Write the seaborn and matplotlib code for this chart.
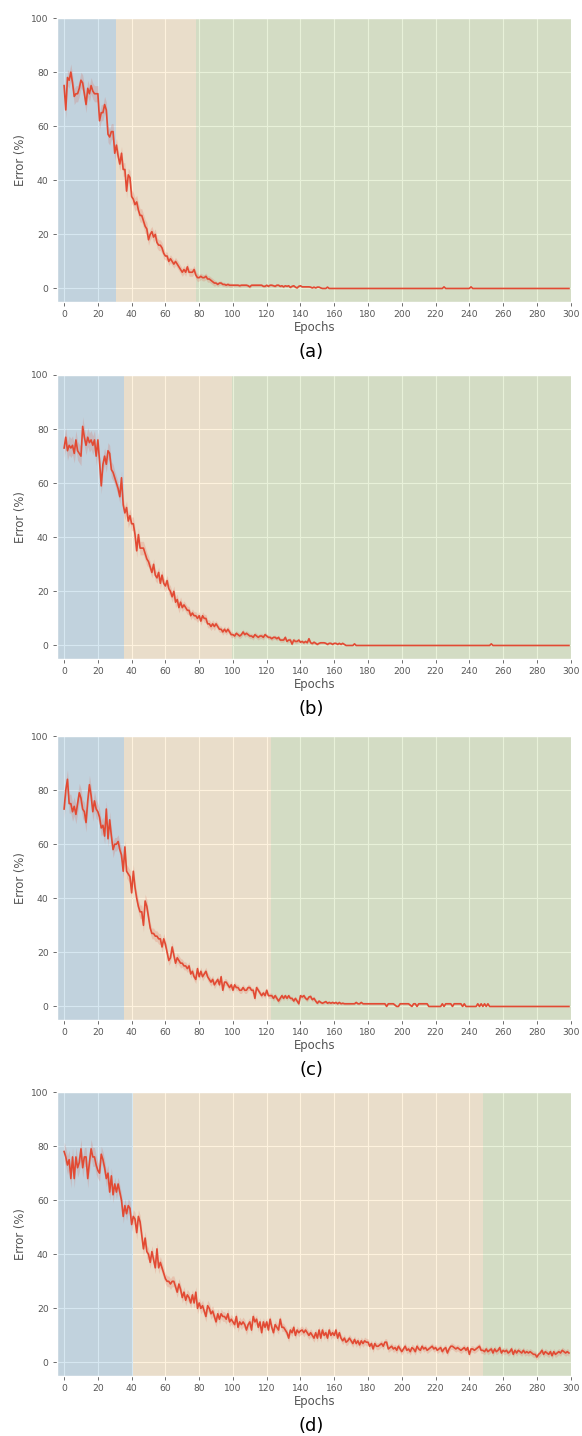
import numpy as np
import matplotlib
matplotlib.use("Agg")
import matplotlib.pyplot as plt
import seaborn as sns

# ---------------- data ----------------
epochs = list(range(300))

err_a = [75, 66, 78, 77, 80, 76, 71, 72, 72, 74,
         77, 76, 72, 68, 74, 72, 75, 73, 72, 72,
         72, 62, 65, 65, 68, 66, 57, 56, 58, 58,
         50, 53, 49, 46, 50, 44, 44, 36, 42, 41,
         34, 33, 31, 32, 29, 27, 27, 25, 23, 22,
         18, 20, 21, 19, 20, 17, 16, 16, 15, 13,
         12, 12, 10, 11, 10, 9, 10, 9, 8, 7,
         6, 7, 6, 8, 6, 6, 6, 7, 5, 4,
         4, 4.5, 4, 4, 4.5, 3.5, 3.5, 3, 2.5, 2,
         2, 1.5, 2, 2, 1.5, 1.5, 1.2, 1.5, 1.2, 1.2,
         1.2, 1.2, 1.2, 1.2, 1.0, 1.2, 1.2, 1.2, 1.2, 1.0,
         0.6, 1.2, 1.2, 1.2, 1.2, 1.2, 1.2, 1.2, 0.8, 0.8,
         1.2, 0.8, 1.2, 1.2, 1.0, 0.8, 1.2, 1.2, 0.8, 1.0,
         0.6, 1.0, 0.8, 1.0, 0.4, 0.8, 1.0, 0.5, 0.2, 0.8,
         1.0, 0.6, 0.6, 0.6, 0.6, 0.6, 0.5, 0.2, 0.5, 0.2,
         0.5, 0.5, 0.2, 0, 0, 0, 0.5, 0, 0, 0] + \
        [0] * 65 + [0.6] + [0] * 15 + [0.6] + [0] * 58

err_b = [73, 77, 72, 74, 73, 74, 71, 76, 72, 71,
         70, 81, 77, 74, 77, 75, 76, 74, 76, 70,
         76, 68, 59, 67, 70, 67, 72, 71, 65, 64,
         62, 60, 58, 55, 62, 52, 49, 51, 46, 48,
         45, 45, 41, 35, 41, 36, 36, 36, 34, 32,
         31, 29, 27, 30, 26, 25, 27, 23, 26, 23,
         22, 24, 21, 20, 18, 20, 16, 17, 14, 16,
         14, 15, 14, 13, 13, 11, 12, 11, 11, 10,
         11, 9, 11, 10, 10, 8, 8, 7, 8, 7,
         8, 7, 6, 6, 5, 6, 5, 6, 5, 4,
         4, 3.5, 4.5, 4, 3.5, 4, 5, 4, 4.5, 4,
         3.5, 3.5, 3, 4, 3.5, 3, 3.5, 3.5, 3, 4,
         3.5, 3, 3, 2.5, 3, 3, 2.5, 3, 2, 2,
         2, 3, 1.5, 2, 2, 0.5, 2, 1.5, 1.5, 2,
         1.2, 1.5, 1.0, 1.5, 1.0, 2.5, 1.0, 0.7, 1.2, 0.8,
         0.4, 0.8, 1.0, 1.0, 1.0, 0.8, 0.4, 0.8, 0.8, 0.4,
         0.8, 0.8, 0.4, 0.8, 0.4, 0.8, 0.4, 0, 0, 0] + \
        [0, 0, 0.6] + [0] * 80 + [0.6] + [0] * 46

err_c = [73, 80, 84, 75, 75, 72, 74, 71, 75, 79,
         77, 73, 72, 68, 76, 82, 78, 72, 76, 73,
         72, 70, 66, 67, 63, 73, 62, 69, 63, 58,
         60, 60, 61, 58, 56, 50, 59, 50, 49, 48,
         42, 50, 44, 40, 37, 35, 35, 30, 39, 37,
         33, 29, 27, 27, 26, 26, 25, 25, 22, 25,
         23, 20, 17, 18, 22, 19, 16, 18, 17, 16,
         16, 15, 15, 14, 15, 12, 13, 11, 10, 14,
         11, 13, 11, 12, 13, 11, 10, 9, 10, 8,
         9, 10, 8, 11, 6, 9, 9, 8, 7, 8,
         6, 8, 7, 7, 6, 6, 7, 6, 6, 7,
         7, 6, 6, 3, 7, 6, 5, 4, 5, 4,
         6, 4, 4, 4, 3, 4, 3, 2, 3, 4,
         3, 4, 3, 4, 3, 3, 2, 3, 2, 1,
         4, 3.5, 4, 3, 2.5, 3.5, 3.7, 2.5, 3, 2,
         1.2, 2, 1.5, 1.2, 1.5, 1.8, 1.2, 1.5, 1.2, 1.5,
         1.2, 1.5, 1.0, 1.5, 1.0, 1.2, 1.0, 1.0, 1.0, 1.0,
         1.0, 1.0, 1.0, 1.5, 1.0, 1.0, 1.5, 1.0, 1.0, 1.0,
         1.0, 1.0, 1.0, 1.0, 1.0, 1.0, 1.0, 1.0, 1.0, 1.0,
         1.0, 0, 1.0, 1.0, 1.0, 1.0, 0.5, 0, 0, 1.0,
         1.0, 1.0, 1.0, 1.0, 1.0, 0.5, 0, 1.0, 1.0, 0,
         1.0, 1.0, 1.0, 1.0, 1.0, 1.0, 0, 0, 0, 0,
         0, 0, 0, 0, 1.0, 0, 1.0, 1.0, 1.0, 1.0,
         0, 1.0, 1.0, 1.0, 1.0, 1.0, 0, 1.0, 0, 0,
         0, 0, 0, 0, 0, 1.0, 0, 1.0, 0, 1.0,
         0, 1.0, 0] + [0] * 47

err_d = [78, 76, 73, 75, 68, 76, 68, 76, 72, 74,
         79, 72, 76, 76, 68, 74, 79, 76, 76, 73,
         71, 70, 77, 75, 72, 68, 70, 63, 69, 62,
         66, 63, 66, 63, 60, 54, 58, 55, 58, 57,
         51, 54, 53, 48, 54, 52, 47, 42, 46, 41,
         40, 37, 41, 38, 35, 42, 35, 37, 35, 33,
         31, 30, 30, 29, 30, 30, 28, 26, 29, 27,
         24, 26, 23, 25, 24, 22, 25, 22, 26, 20,
         22, 20, 21, 19, 17, 21, 20, 18, 19, 17,
         15, 18, 16, 18, 17, 17, 16, 18, 15, 16,
         15, 14, 17, 13, 15, 14, 15, 14, 12, 14,
         15, 12, 17, 15, 16, 13, 15, 11, 15, 13,
         15, 12, 16, 13, 11, 14, 13, 12, 16, 13,
         13, 12, 11, 9, 12, 11, 13, 10, 12, 11,
         11.7, 12, 11, 12, 11, 10, 11, 10, 9, 11,
         9, 12, 9, 12, 10, 11, 9, 12, 10, 11,
         10, 12, 9, 11, 9, 8, 9, 7.5, 8, 9,
         8, 7, 8.5, 7, 8, 6.5, 8, 7, 8, 7.5,
         7.5, 6, 7, 5, 7, 6, 6, 6.5, 7, 6,
         7.5, 7.5, 5, 5.5, 6, 5, 5.5, 4.5, 6, 5,
         4, 5, 6, 4.5, 5, 4, 5.5, 5, 4, 6,
         5, 4.5, 6, 5, 5.5, 4.5, 5, 5.5, 6, 5,
         5.5, 4.5, 5, 5.5, 4, 5, 5.5, 3.5, 5, 6,
         6, 5.5, 5, 5.5, 5, 4.5, 5, 5.5, 4.5, 5.5,
         3, 5, 5, 4.5, 5, 5.5, 6, 4.5, 4.5, 4,
         5, 4, 4.5, 5, 3.5, 5, 4, 4.5, 5.5, 3.5,
         4.5, 4, 4.5, 3.5, 4, 5, 3, 4.5, 3.5, 4.5,
         4, 3.5, 4.5, 3.5, 4, 3.5, 4, 3.5, 3, 3,
         2, 3, 3.5, 4.5, 3, 4, 3.5, 3, 4, 2.5,
         4, 3, 3.5, 4, 3.5, 4.5, 4, 3.5, 4, 3.5]

# half-width of the shaded band, one value per block of 10 epochs
spread_a = [3, 3, 3, 2.5, 2.5, 2, 1.5, 1.5, 1.2, 0.8, 0.6, 0.5, 0.5, 0.4, 0.3, 0.2] + [0.1] * 14
spread_b = [3.5, 3.5, 3, 2.5, 2.5, 2, 2, 1.5, 1.5, 1.2, 1, 1, 0.8, 0.8, 0.6, 0.4, 0.3] + [0.1] * 13
spread_c = [3.5, 3.5, 3, 2.5, 2.5, 2, 1.8, 1.5, 1.5, 1.3, 1.2, 1, 1, 0.8, 0.8, 0.6, 0.5,
            0.4, 0.4, 0.4, 0.4, 0.4, 0.4, 0.4, 0.3] + [0.1] * 5
spread_d = [3.5, 3.5, 3, 2.5, 2.5, 2.2, 2, 2, 2, 1.8, 1.8, 1.6, 1.6, 1.5, 1.5, 1.5, 1.4, 1.4,
            1.3, 1.3, 1.3, 1.2, 1.2, 1.2, 1.2, 1.2, 1.2, 1.2, 1.2, 1.2]

# phase boundaries (epochs): blue -> beige, beige -> green
phase_ends = [(30.5, 78), (35.5, 99.5), (35.5, 122.5), (41, 248)]
panel_labels = ["(a)", "(b)", "(c)", "(d)"]

series = [err_a, err_b, err_c, err_d]
spreads = [spread_a, spread_b, spread_c, spread_d]
for s in series:
    assert len(s) == 300, len(s)

# ---------------- style ----------------
plt.style.use("ggplot")
plt.rcParams["font.family"] = ["DejaVu Sans"]
RED = "#E24A33"
BLUE = "#348ABD"
ORANGE = "#FBC15E"
GREEN = "#8EBA42"

W, H = 582, 1436
fig = plt.figure(figsize=(W / 100, H / 100), dpi=100)

axes_px = [(18, 302), (375, 659), (736, 1020), (1092, 1376)]
left_px, right_px = 57, 572
XMIN, XMAX = -4.2, 300.8

for i, (top, bot) in enumerate(axes_px):
    ax = fig.add_axes([left_px / W, 1 - bot / H, (right_px - left_px) / W, (bot - top) / H])
    y = np.array(series[i], dtype=float)
    sp = np.repeat(spreads[i], 10)
    b1, b2 = phase_ends[i]
    ax.axvspan(XMIN, b1, color=BLUE, alpha=0.2, lw=0, zorder=1)
    ax.axvspan(b1, b2, color=ORANGE, alpha=0.2, lw=0, zorder=1)
    ax.axvspan(b2, 300, color=GREEN, alpha=0.2, lw=0, zorder=1)
    ax.fill_between(epochs, np.clip(y - sp, 0, None), y + sp, color=RED, alpha=0.18,
                    lw=0, zorder=2)
    sns.lineplot(x=epochs, y=y, ax=ax, color=RED, linewidth=1.2, zorder=3)
    ax.set_xlim(XMIN, XMAX)
    ax.set_ylim(-5, 100)
    ax.set_xticks(range(0, 301, 20))
    ax.set_yticks(range(0, 101, 20))
    ax.tick_params(labelsize=6.6, colors="#555555", length=3, width=0.6, pad=3)
    ax.set_xlabel("Epochs", fontsize=8.4, color="#555555", labelpad=1)
    ax.set_ylabel("Error (%)", fontsize=8.4, color="#555555", labelpad=3)
    ax.grid(True, color="white", linewidth=0.8)
    fig.text(0.535, 1 - (bot + 50) / H, panel_labels[i], ha="center", va="center",
             fontsize=13, color="black")

fig.savefig("out.png", dpi=100)
